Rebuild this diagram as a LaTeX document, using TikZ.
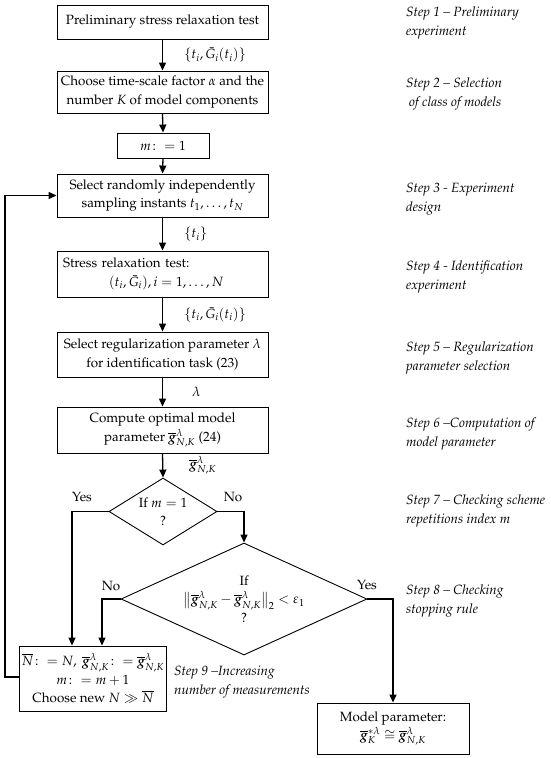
\documentclass[tikz,border=0pt]{standalone}
\usepackage[T1]{fontenc}
\usepackage{amsmath}
\usepackage{mathpazo}
\usepackage{bm}
\usetikzlibrary{arrows.meta,shapes.geometric,calc}
\newcommand{\gb}{\overline{\bm g}}
\begin{document}
\begin{tikzpicture}[x=1pt,y=-1pt,
  every node/.style={font=\fontsize{13.4}{18.5}\selectfont},
  box/.style={draw,line width=0.9pt,align=center,inner sep=2pt},
  wide/.style={box,minimum width=211pt},
  dia/.style={draw,line width=0.9pt,diamond,inner sep=0pt},
  arr/.style={line width=1.3pt,-{Triangle[length=8pt,width=7pt]}},
  ln/.style={line width=1.3pt},
  lab/.style={inner sep=1pt},
  steplab/.style={anchor=west,align=left,font=\fontsize{13.4}{19}\selectfont\itshape,inner sep=0pt}]
\useasboundingbox (0,0) rectangle (550,758);
% boxes
\node[wide,minimum height=34pt] (b1) at (162.5,22) {Preliminary stress relaxation test};
\node[wide,minimum height=42pt] (b2) at (162.5,92) {Choose time-scale factor $\alpha$ and the\\number $K$ of model components};
\node[box,minimum width=92pt,minimum height=25pt] (b3) at (163,145.5) {$m\colon = 1$};
\node[wide,minimum height=43pt] (b4) at (162.5,195.5) {Select randomly independently\\sampling instants $t_1,\ldots,t_N$};
\node[wide,minimum height=46pt,text width=199pt,align=left] (b5) at (162.5,274) {Stress relaxation test:\\\hspace*{46pt}$(t_i,\bar G_i), i=1,\ldots,N$};
\node[wide,minimum height=45pt] (b6) at (162.5,354.5) {Select regularization parameter $\lambda$\\for identification task (23)};
\node[wide,minimum height=46pt] (b7) at (162.5,430) {Compute optimal model\\parameter $\gb^{\lambda}_{N,K}$ (24)};
\node[dia,minimum width=108pt,minimum height=67pt,label={[align=center]center:{If $m=1$\\?}}] (d1) at (163,511.5) {};
\node[dia,minimum width=246pt,minimum height=112pt,label={[align=center]center:{If\\$\bigl\|\gb^{\lambda}_{N,K}-\gb^{\lambda}_{N,K}\bigr\|_2<\varepsilon_1$\\?}}] (d2) at (244,599) {};
\node[box,minimum width=140pt,minimum height=65pt] (b9) at (93,678.5) {$\overline{N}\colon = N,\ \gb^{\lambda}_{N,K}\colon = \gb^{\lambda}_{N,K}$\\$m\colon = m+1$\\Choose new $N\gg\overline{N}$};
\node[box,minimum width=152pt,minimum height=51pt] (b10) at (393,728.5) {Model parameter:\\$\gb^{*\lambda}_{K}\cong\gb^{\lambda}_{N,K}$};
% connectors
\draw[arr] (b1.south) -- node[lab,right=20pt] {$\{t_i,\bar G_i(t_i)\}$} (b2.north);
\draw[arr] (b2.south) -- (b3.north);
\draw[arr] (b3.south) -- (b4.north);
\draw[arr] (b4.south) -- node[lab,right=20pt] {$\{t_i\}$} (b5.north);
\draw[arr] (b5.south) -- node[lab,right=20pt] {$\{t_i,\bar G_i(t_i)\}$} (b6.north);
\draw[arr] (b6.south) -- node[lab,right=28pt] {$\lambda$} (b7.north);
\draw[arr] (b7.south) -- node[lab,right=25pt] {$\gb^{\lambda}_{N,K}$} (d1.north);
\coordinate (yesc) at (72,511.5);
\coordinate (noc) at (102,599);
\draw[arr] (d1.west) -- (yesc) -- (yesc |- b9.north);
\draw[arr] (d1.east) -| (d2.north);
\draw[arr] (d2.west) -- (noc) -- (noc |- b9.north);
\draw[arr] (d2.east) -| (b10.north);
\coordinate (fb) at (5,677);
\draw[arr] (b9.west |- fb) -- (fb) |- (b4.west);
% yes/no labels
\node[lab] (y1) at (82,497) {Yes};
\node[lab] (n1) at (233,497) {No};
\node[lab] (n2) at (111,586) {No};
\node[lab] (y2) at (367,585) {Yes};
% step labels
\node[steplab] (s1) at (406,23) {Step 1 -- Preliminary\\experiment};
\node[steplab] (s2) at (406,94) {Step 2 -- Selection\\\hspace*{3pt}of class of models};
\node[steplab] (s3) at (406,199) {Step 3 - Experiment\\design};
\node[steplab] (s4) at (406,277.5) {Step 4 - Identification\\experiment};
\node[steplab] (s5) at (406,358) {Step 5 -- Regularization\\parameter selection};
\node[steplab] (s6) at (406,434) {Step 6 --Computation of\\model parameter};
\node[steplab] (s7) at (406,511) {Step 7 -- Checking scheme\\repetitions index $m$};
\node[steplab] (s8) at (406,601) {Step 8 -- Checking\\stopping rule};
\node[steplab] (s9) at (174,682) {Step 9 --Increasing\\number of measurements};
\end{tikzpicture}
\end{document}
